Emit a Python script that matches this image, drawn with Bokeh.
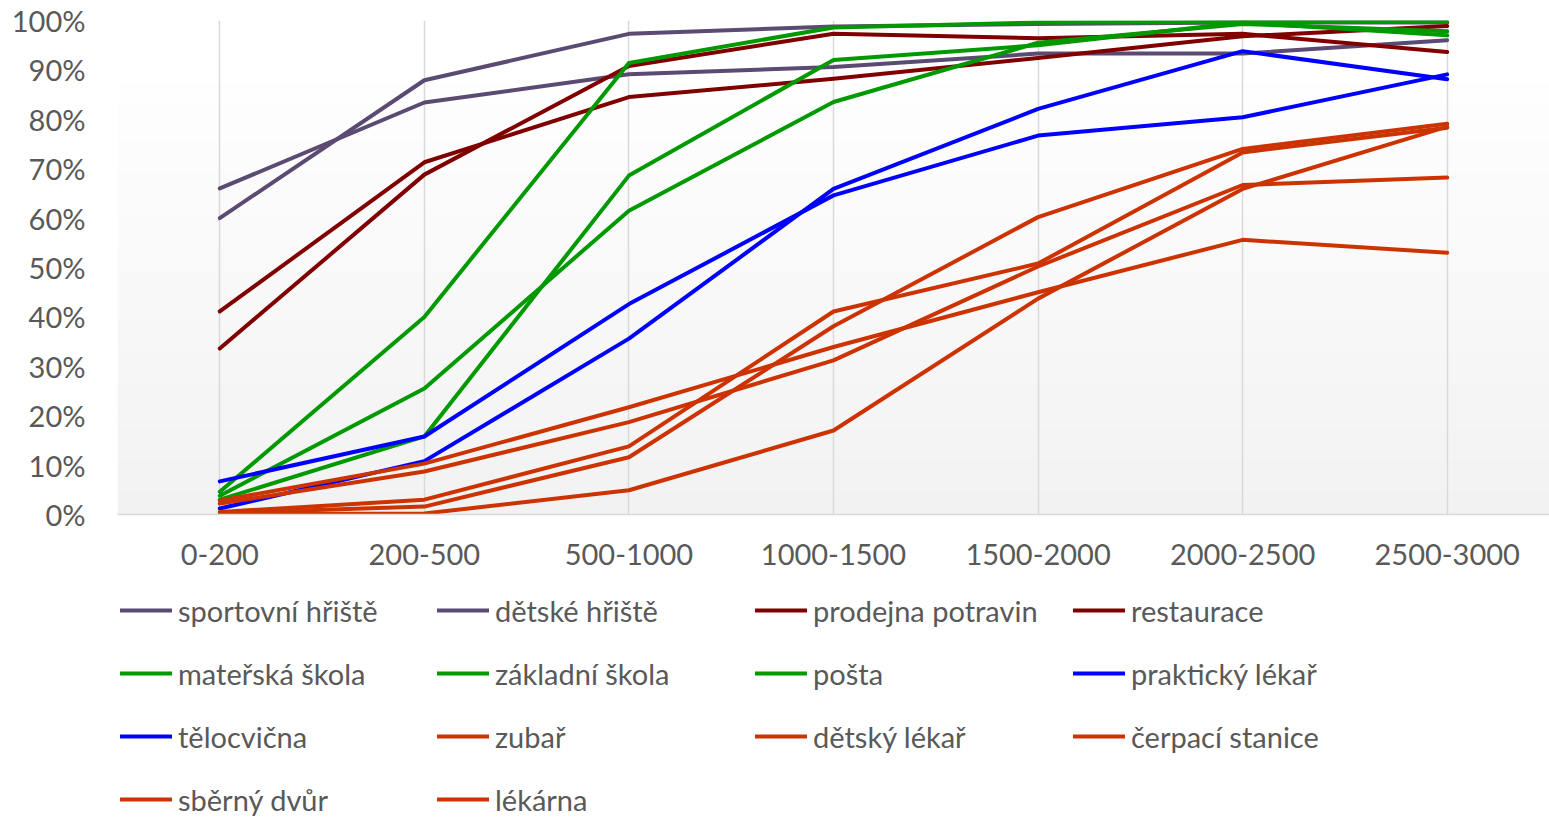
from bokeh.plotting import figure
from bokeh.layouts import column
from bokeh.models import (FactorRange, Range1d, FixedTicker, NumeralTickFormatter,
                          Legend, LegendItem, BoxAnnotation)
from bokeh.embed import file_html
from bokeh.resources import INLINE

categories = ["0-200", "200-500", "500-1000", "1000-1500", "1500-2000", "2000-2500", "2500-3000"]

series_names = ["sportovní hřiště", "dětské hřiště", "prodejna potravin", "restaurace",
                "mateřská škola", "základní škola", "pošta", "praktický lékař",
                "tělocvična", "zubař", "dětský lékař", "čerpací stanice",
                "sběrný dvůr", "lékárna"]

sportovni_hriste = [66.0, 83.4, 89.1, 90.6, 93.3, 93.3, 96.0]
detske_hriste = [60.0, 87.9, 97.3, 98.8, 99.3, 99.6, 99.6]
prodejna_potravin = [41.1, 71.3, 84.5, 88.2, 92.4, 96.8, 98.9]
restaurace = [33.6, 68.8, 90.8, 97.3, 96.4, 97.3, 93.6]
materska_skola = [4.6, 40.0, 91.4, 98.6, 99.6, 99.7, 99.7]
zakladni_skola = [3.8, 25.5, 61.5, 83.5, 95.5, 99.3, 97.8]
posta = [3.0, 15.8, 68.6, 92.0, 95.0, 99.6, 97.0]
prakticky_lekar = [6.7, 15.8, 42.6, 64.6, 76.7, 80.4, 89.1]
telocvicna = [1.2, 10.8, 35.6, 65.9, 82.1, 93.8, 88.1]
zubar = [2.8, 10.3, 21.7, 33.9, 45.0, 55.6, 53.0]
detsky_lekar = [2.2, 8.7, 18.7, 31.2, 50.2, 66.7, 68.2]
cerpaci_stanice = [0.5, 3.0, 13.8, 41.1, 50.8, 73.3, 78.3]
sberny_dvur = [0.3, 1.6, 11.6, 38.1, 60.2, 74.0, 79.1]
lekarna = [0.1, 0.2, 4.9, 17.0, 43.7, 65.9, 78.5]

series_values = [sportovni_hriste, detske_hriste, prodejna_potravin, restaurace,
                 materska_skola, zakladni_skola, posta, prakticky_lekar, telocvicna,
                 zubar, detsky_lekar, cerpaci_stanice, sberny_dvur, lekarna]

PURPLE, DARKRED, GREEN, BLUE, ORANGE = "#5b4a72", "#800000", "#009900", "#0000ff", "#cc3300"
series_colors = [PURPLE, PURPLE, DARKRED, DARKRED, GREEN, GREEN, GREEN, BLUE, BLUE,
                 ORANGE, ORANGE, ORANGE, ORANGE, ORANGE]

y_ticks = [i / 10 for i in range(11)]

FONT = "Lato"
FSIZE = "29px"
TXT = "#595959"
LW = 4

W = 1549
H1 = 580
H2 = 818 - H1
FRAME_LEFT = 117

p = figure(x_range=FactorRange(*categories, range_padding=0),
           y_range=Range1d(0, 1.0),
           width=W, height=H1, output_backend="svg", toolbar_location=None,
           min_border_left=FRAME_LEFT, min_border_right=0, min_border_top=20,
           min_border_bottom=H1 - 514)
p.outline_line_color = None
p.background_fill_color = "white"
p.border_fill_color = "white"

# gradient plot background
nb = 40
top_v = 0.87
for i in range(nb):
    b = top_v * i / nb
    t = top_v * (i + 1) / nb
    frac = (i + 0.5) / nb
    g = int(round(242 + (254 - 242) * frac))
    col = "#%02x%02x%02x" % (g, g, g)
    p.add_layout(BoxAnnotation(bottom=b, top=t + 0.002, fill_color=col, fill_alpha=1.0,
                               line_color=None, level="image"))

p.xgrid.grid_line_color = "#d9d9d9"
p.xgrid.grid_line_width = 1.5
p.ygrid.grid_line_color = None

p.xaxis.axis_line_color = "#d9d9d9"
p.xaxis.axis_line_width = 1.5
p.xaxis.major_tick_line_color = None
p.xaxis.major_tick_out = 0
p.xaxis.minor_tick_line_color = None
p.xaxis.major_label_text_font = FONT
p.xaxis.major_label_text_font_size = FSIZE
p.xaxis.major_label_text_color = TXT
p.xaxis.major_label_standoff = 29

p.yaxis.axis_line_color = None
p.yaxis.major_tick_line_color = None
p.yaxis.major_tick_out = 0
p.yaxis.minor_tick_line_color = None
p.yaxis.ticker = FixedTicker(ticks=y_ticks)
p.yaxis.formatter = NumeralTickFormatter(format="0%")
p.yaxis.major_label_text_font = FONT
p.yaxis.major_label_text_font_size = FSIZE
p.yaxis.major_label_text_color = TXT
p.yaxis.major_label_standoff = 32

for name, vals, col in zip(series_names, series_values, series_colors):
    p.line(x=categories, y=[v / 100 for v in vals], line_color=col, line_width=LW,
           line_join="round", line_cap="round")

# legend figure below the chart
q = figure(x_range=Range1d(0, 1), y_range=Range1d(0, 1), width=W, height=H2,
           output_backend="svg", toolbar_location=None, x_axis_type=None, y_axis_type=None,
           min_border=0)
q.outline_line_color = None
q.xgrid.grid_line_color = None
q.ygrid.grid_line_color = None
q.background_fill_color = "white"
q.border_fill_color = "white"

# legend key renderers (kept outside the visible range; only their legend glyphs show)
keys = []
for name, col in zip(series_names, series_colors):
    keys.append(q.line(x=[-5, -4], y=[-5, -4], line_color=col, line_width=LW,
                       line_cap="round"))

col_x = [120, 437, 755, 1073]
row_pitch = 63
item_h = 36
first_row_center = 610 - H1
for c in range(4):
    idx = list(range(c, len(series_names), 4))
    items = [LegendItem(label=series_names[i], renderers=[keys[i]]) for i in idx]
    n = len(items)
    leg_h = n * item_h + (n - 1) * (row_pitch - item_h)
    top = first_row_center - item_h / 2
    vy = H2 - (top + leg_h)
    leg = Legend(items=items, location=(col_x[c] - FRAME_LEFT, vy), orientation="vertical",
                 padding=0, margin=0, spacing=row_pitch - item_h,
                 glyph_width=52, glyph_height=item_h, label_height=item_h,
                 label_standoff=6, label_text_font=FONT, label_text_font_size=FSIZE,
                 label_text_color=TXT, border_line_color=None,
                 background_fill_alpha=0)
    q.add_layout(leg, "center")

layout = column(p, q, spacing=0)
open("out.html", "w").write(file_html(layout, INLINE))
